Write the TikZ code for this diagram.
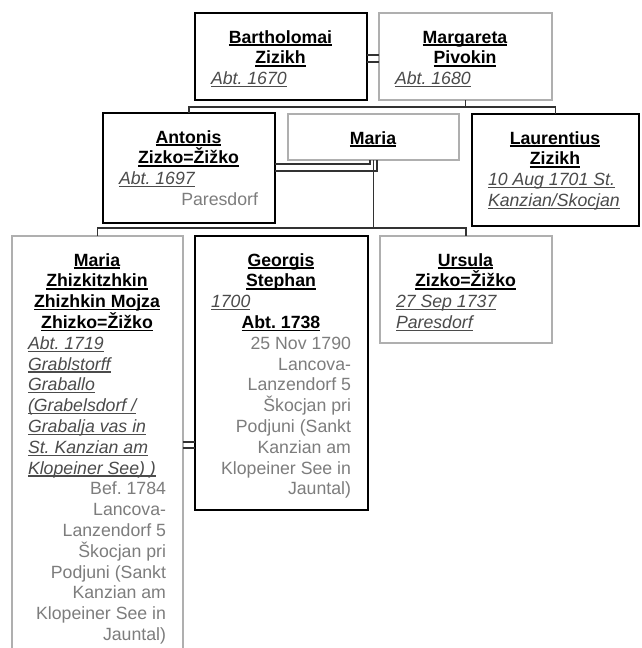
\documentclass[tikz,border=0pt]{standalone}
\usepackage{fontspec}
\setmainfont{Liberation Sans}
\usetikzlibrary{calc}
\definecolor{datec}{RGB}{75,75,75}
\definecolor{placec}{RGB}{125,125,125}
\definecolor{linec}{RGB}{50,50,50}
\definecolor{grayb}{RGB}{175,175,175}
\newsavebox\ulbox
\newcommand\nameul[1]{\sbox\ulbox{\bfseries #1}\rlap{\rule[-2.8pt]{\wd\ulbox}{1.7pt}}\usebox\ulbox}
\newcommand\dateul[1]{\sbox\ulbox{\itshape #1}\rlap{\rule[-2.5pt]{\wd\ulbox}{1.1pt}}\usebox\ulbox}
\newcommand\lnN[1]{\hbox to\hsize{\hss\nameul{#1}\hss}}
\newcommand\lnD[1]{\hbox to\hsize{\color{datec}\dateul{#1}\hss}}
\newcommand\lnP[1]{\hbox to\hsize{\hss\color{placec}#1}}
\newcommand\tbox[2]{\vtop{\hsize=#1pt\relax\fontsize{17.7}{20.8}\selectfont\frenchspacing\lineskiplimit=-\maxdimen\lineskip=0pt #2}}
\tikzset{
  thickbox/.style={draw=black, line width=2.3pt, inner sep=0pt, outer sep=0pt, anchor=north west},
  graybox/.style={draw=grayb, line width=1.3pt, inner sep=0pt, outer sep=0pt, anchor=north west},
  txt/.style={inner sep=0pt, outer sep=0pt, anchor=base west},
  conn/.style={draw=linec, line width=1.8pt}
}
\begin{document}
\begin{tikzpicture}[x=1pt,y=-1pt]
\fill[white] (0,0) rectangle (641,648);
\useasboundingbox (0,0) rectangle (641,648);

% boxes
\node[thickbox, minimum width=172pt, minimum height=87pt] (bart) at (195,13) {};
\node[graybox, minimum width=173pt, minimum height=87pt] (marg) at (379,13) {};
\node[thickbox, minimum width=172pt, minimum height=110pt] (antonis) at (103,113) {};
\node[graybox, minimum width=171pt, minimum height=46pt] (mariam) at (288,114) {};
\node[thickbox, minimum width=167pt, minimum height=112pt] (laur) at (472,114) {};
\node[graybox, minimum width=171pt, minimum height=420pt] (mariaz) at (12,236) {};
\node[thickbox, minimum width=173pt, minimum height=274pt] (georgis) at (195,236) {};
\node[graybox, minimum width=172pt, minimum height=107pt] (ursula) at (380,236) {};

% texts
\node[txt] (bart-t) at ([xshift=16pt,yshift=-30pt]bart.north west)
  {\tbox{139}{\lnN{Bartholomai}\lnN{Zizikh}\lnD{Abt. 1670}}};
\node[txt] (marg-t) at ([xshift=16pt,yshift=-30pt]marg.north west)
  {\tbox{140}{\lnN{Margareta}\lnN{Pivokin}\lnD{Abt. 1680}}};
\node[txt] (antonis-t) at ([xshift=16pt,yshift=-30pt]antonis.north west)
  {\tbox{139}{\lnN{Antonis}\lnN{Zizko=Žižko}\lnD{Abt. 1697}\lnP{Paresdorf}}};
\node[txt] (mariam-t) at ([xshift=16pt,yshift=-30pt]mariam.north west)
  {\tbox{138}{\lnN{Maria}}};
\node[txt] (laur-t) at ([xshift=16pt,yshift=-30pt]laur.north west)
  {\tbox{134}{\lnN{Laurentius}\lnN{Zizikh}\lnD{10 Aug 1701 St.}\lnD{Kanzian/Skocjan}}};
\node[txt] (mariaz-t) at ([xshift=16pt,yshift=-30pt]mariaz.north west)
  {\tbox{138}{\lnN{Maria}\lnN{Zhizkitzhkin}\lnN{Zhizhkin Mojza}\lnN{Zhizko=Žižko}%
   \lnD{Abt. 1719}\lnD{Grablstorff}\lnD{Graballo}\lnD{(Grabelsdorf /}\lnD{Grabalja vas in}%
   \lnD{St. Kanzian am}\lnD{Klopeiner See) )}%
   \lnP{Bef. 1784}\lnP{Lancova-}\lnP{Lanzendorf 5}\lnP{Škocjan pri}\lnP{Podjuni (Sankt}%
   \lnP{Kanzian am}\lnP{Klopeiner See in}\lnP{Jauntal)}}};
\node[txt] (georgis-t) at ([xshift=16pt,yshift=-30pt]georgis.north west)
  {\tbox{140}{\lnN{Georgis}\lnN{Stephan}\lnD{1700}\lnN{Abt. 1738}%
   \lnP{25 Nov 1790}\lnP{Lancova-}\lnP{Lanzendorf 5}\lnP{Škocjan pri}\lnP{Podjuni (Sankt}%
   \lnP{Kanzian am}\lnP{Klopeiner See in}\lnP{Jauntal)}}};
\node[txt] (ursula-t) at ([xshift=16pt,yshift=-30pt]ursula.north west)
  {\tbox{139}{\lnN{Ursula}\lnN{Zizko=Žižko}\lnD{27 Sep 1737}\lnD{Paresdorf}}};

% marriage double lines
\draw[conn] (bart.east |- 0,55) -- (marg.west |- 0,55);
\draw[conn] (bart.east |- 0,62) -- (marg.west |- 0,62);
\draw[conn] ([xshift=-3.5pt]mariam.south) |- (antonis.east |- 0,164);
\draw[conn] ([xshift=3.5pt]mariam.south) |- (antonis.east |- 0,171);
\draw[conn] (mariaz.east |- 0,442) -- (georgis.west |- 0,442);
\draw[conn] (mariaz.east |- 0,448) -- (georgis.west |- 0,448);

% children buses
\coordinate (bus1) at (466,107);
\coordinate (bus2) at (374,228);
\draw[conn] (marg.south) -- (marg.south |- bus1);
\draw[conn] (antonis.north) -- (antonis.north |- bus1) -- (laur.north |- bus1) -- (laur.north);
\draw[conn] (mariam.south) -- (mariam.south |- bus2);
\draw[conn] (mariaz.north) -- (mariaz.north |- bus2) -- (ursula.north |- bus2) -- (ursula.north);
\end{tikzpicture}
\end{document}
